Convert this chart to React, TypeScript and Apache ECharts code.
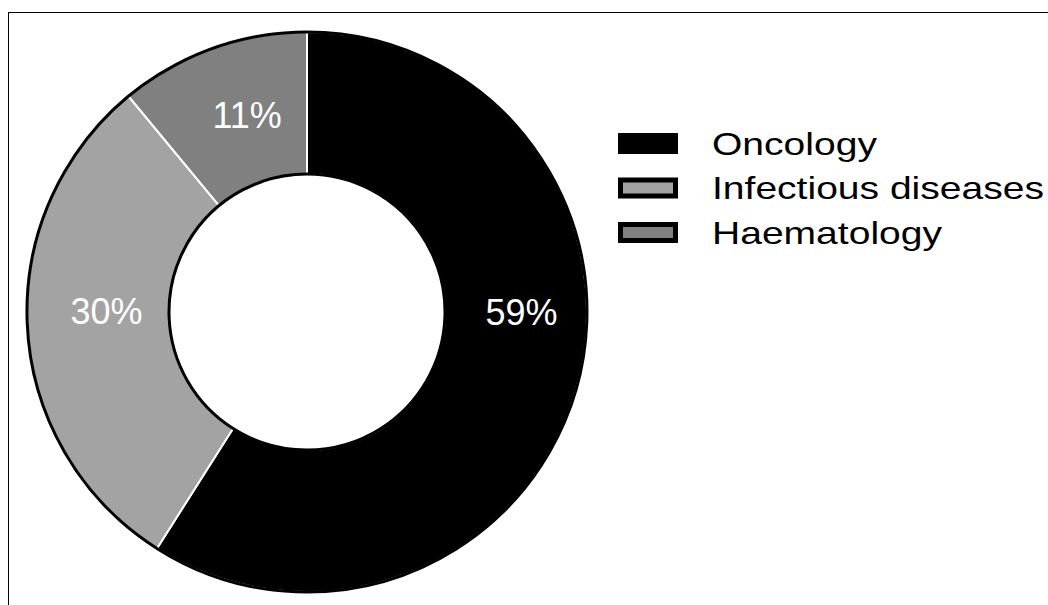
import React, { useEffect, useRef } from "react";
import * as echarts from "echarts";

// Therapeutic area split (percent)
const categories = ["Oncology", "Infectious diseases", "Haematology"];
const shares = [59, 30, 11];
const sliceColors = ["#000000", "#a3a3a3", "#808080"];

// Nudges that move each percentage label off the mid-radius point
const labelNudge = [
  { dx: 11, dy: -59 },
  { dx: 11, dy: -14 },
  { dx: 12, dy: 3 },
];

const FONT = '"Liberation Sans", Arial, Helvetica, sans-serif';

export default function App() {
  const ref = useRef<HTMLDivElement>(null);

  useEffect(() => {
    document.documentElement.style.overflow = "hidden";
    document.body.style.overflow = "hidden";
    const el = ref.current;
    if (!el) return;
    const chart = echarts.init(el, null, { renderer: "svg" });

    const center = [298, 299];
    const radii = [138, 280];

    // Legend rows: swatch with a heavy black outline, then a wide label
    const legendX = 609;
    const legendTop = 120;
    const rowGap = 44.5;
    const legendItems = categories.map((name, i) => ({
      type: "group",
      x: legendX,
      y: legendTop + i * rowGap,
      children: [
        {
          type: "rect",
          shape: { x: 2.5, y: 2.5, width: 55, height: 16 },
          style: { fill: sliceColors[i], stroke: "#000", lineWidth: 5 },
        },
        {
          type: "text",
          x: 94,
          y: 11,
          scaleX: 1.22,
          style: {
            text: name,
            font: `32px ${FONT}`,
            fill: "#000",
            verticalAlign: "middle",
            align: "left",
          },
        },
      ],
    }));

    chart.setOption({
      animation: false,
      backgroundColor: "#ffffff",
      graphic: legendItems,
      series: [
        {
          type: "pie",
          center,
          radius: radii,
          startAngle: 90,
          clockwise: true,
          avoidLabelOverlap: false,
          emphasis: { disabled: true },
          itemStyle: { borderColor: "#ffffff", borderWidth: 2 },
          label: {
            show: true,
            position: "inside",
            formatter: "{c}%",
            color: "#ffffff",
            fontFamily: FONT,
            fontSize: 36,
          },
          labelLine: { show: false },
          labelLayout: (p: any) => labelNudge[p.dataIndex] || {},
          data: categories.map((name, i) => ({
            name,
            value: shares[i],
            itemStyle: { color: sliceColors[i] },
          })),
        },
        {
          // black outline around the ring's outer and inner edges
          type: "pie",
          center,
          radius: radii,
          silent: true,
          emphasis: { disabled: true },
          label: { show: false },
          labelLine: { show: false },
          itemStyle: {
            color: "rgba(0,0,0,0)",
            borderColor: "#000000",
            borderWidth: 3,
          },
          data: [{ name: "outline", value: 1 }],
        },
      ],
    });

    return () => chart.dispose();
  }, []);

  return (
    <div
      style={{
        position: "fixed",
        left: 8,
        top: 12,
        width: 1052,
        height: 602,
        border: "1px solid #000",
        background: "#fff",
      }}
    >
      <div ref={ref} style={{ width: 1052, height: 602 }} />
    </div>
  );
}
